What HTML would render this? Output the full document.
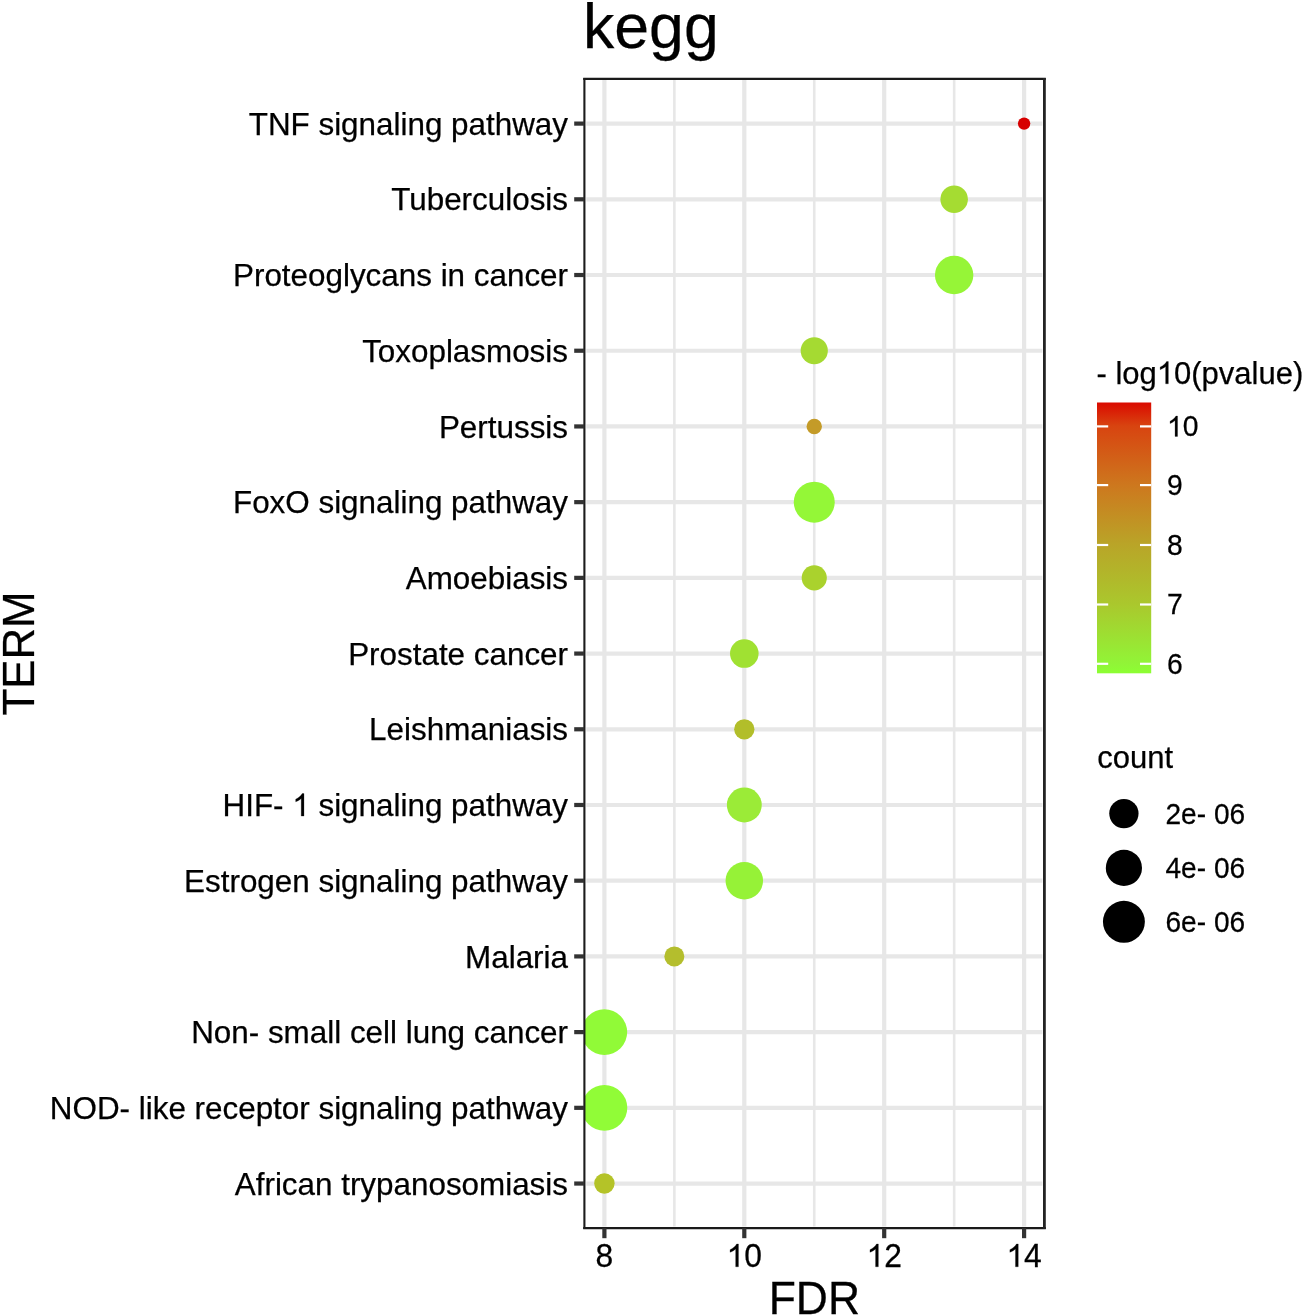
<!DOCTYPE html><html><head><meta charset="utf-8"><style>html,body{margin:0;padding:0;background:#fff;}svg{display:block;transform:translateZ(0);}text{font-family:"Liberation Sans", sans-serif;stroke:#000;stroke-width:0.25px;}</style></head><body>
<svg width="1305" height="1316" viewBox="0 0 1305 1316">
<text x="583" y="47.6" font-size="62.6" fill="#000">kegg</text>
<line x1="674.35" y1="79.9" x2="674.35" y2="1226.6" stroke="#E7E7E7" stroke-width="2.6"/>
<line x1="814.25" y1="79.9" x2="814.25" y2="1226.6" stroke="#E7E7E7" stroke-width="2.6"/>
<line x1="954.15" y1="79.9" x2="954.15" y2="1226.6" stroke="#E7E7E7" stroke-width="2.6"/>
<line x1="604.40" y1="79.9" x2="604.40" y2="1226.6" stroke="#E7E7E7" stroke-width="4.2"/>
<line x1="744.30" y1="79.9" x2="744.30" y2="1226.6" stroke="#E7E7E7" stroke-width="4.2"/>
<line x1="884.20" y1="79.9" x2="884.20" y2="1226.6" stroke="#E7E7E7" stroke-width="4.2"/>
<line x1="1024.10" y1="79.9" x2="1024.10" y2="1226.6" stroke="#E7E7E7" stroke-width="4.2"/>
<line x1="586.3" y1="123.60" x2="1042.4" y2="123.60" stroke="#E7E7E7" stroke-width="4.2"/>
<line x1="586.3" y1="199.31" x2="1042.4" y2="199.31" stroke="#E7E7E7" stroke-width="4.2"/>
<line x1="586.3" y1="275.02" x2="1042.4" y2="275.02" stroke="#E7E7E7" stroke-width="4.2"/>
<line x1="586.3" y1="350.73" x2="1042.4" y2="350.73" stroke="#E7E7E7" stroke-width="4.2"/>
<line x1="586.3" y1="426.44" x2="1042.4" y2="426.44" stroke="#E7E7E7" stroke-width="4.2"/>
<line x1="586.3" y1="502.15" x2="1042.4" y2="502.15" stroke="#E7E7E7" stroke-width="4.2"/>
<line x1="586.3" y1="577.86" x2="1042.4" y2="577.86" stroke="#E7E7E7" stroke-width="4.2"/>
<line x1="586.3" y1="653.57" x2="1042.4" y2="653.57" stroke="#E7E7E7" stroke-width="4.2"/>
<line x1="586.3" y1="729.28" x2="1042.4" y2="729.28" stroke="#E7E7E7" stroke-width="4.2"/>
<line x1="586.3" y1="804.99" x2="1042.4" y2="804.99" stroke="#E7E7E7" stroke-width="4.2"/>
<line x1="586.3" y1="880.70" x2="1042.4" y2="880.70" stroke="#E7E7E7" stroke-width="4.2"/>
<line x1="586.3" y1="956.41" x2="1042.4" y2="956.41" stroke="#E7E7E7" stroke-width="4.2"/>
<line x1="586.3" y1="1032.12" x2="1042.4" y2="1032.12" stroke="#E7E7E7" stroke-width="4.2"/>
<line x1="586.3" y1="1107.83" x2="1042.4" y2="1107.83" stroke="#E7E7E7" stroke-width="4.2"/>
<line x1="586.3" y1="1183.54" x2="1042.4" y2="1183.54" stroke="#E7E7E7" stroke-width="4.2"/>
<clipPath id="pc"><rect x="584.30" y="78.90" width="460.10" height="1149.20"/></clipPath><g clip-path="url(#pc)">
<circle cx="1024.10" cy="123.60" r="6.20" fill="#D70000"/>
<circle cx="954.15" cy="199.31" r="13.75" fill="#A5DC32"/>
<circle cx="954.15" cy="275.02" r="19.20" fill="#96F537"/>
<circle cx="814.25" cy="350.73" r="13.60" fill="#A5DA32"/>
<circle cx="814.25" cy="426.44" r="7.70" fill="#C49B28"/>
<circle cx="814.25" cy="502.15" r="20.50" fill="#94F737"/>
<circle cx="814.25" cy="577.86" r="12.60" fill="#AAD22D"/>
<circle cx="744.30" cy="653.57" r="14.30" fill="#A0E132"/>
<circle cx="744.30" cy="729.28" r="10.15" fill="#B2BE2A"/>
<circle cx="744.30" cy="804.99" r="17.45" fill="#9BEB37"/>
<circle cx="744.30" cy="880.70" r="18.75" fill="#96F237"/>
<circle cx="674.35" cy="956.41" r="10.00" fill="#B4BE2D"/>
<circle cx="604.40" cy="1032.12" r="22.80" fill="#91FA37"/>
<circle cx="604.40" cy="1107.83" r="22.90" fill="#91FC37"/>
<circle cx="604.40" cy="1183.54" r="10.20" fill="#B4C328"/>
</g>
<path d="M583.20 78.90H1045.80M583.20 1228.10H1045.80" stroke="#1A1A1A" stroke-width="2.1"/>
<path d="M584.40 77.90V1229.10" stroke="#1C1C1C" stroke-width="2.1"/>
<path d="M1044.40 77.90V1229.10" stroke="#242424" stroke-width="2.8"/>
<line x1="574.2" y1="123.60" x2="584.30" y2="123.60" stroke="#333" stroke-width="4.2"/>
<text x="568.00" y="134.70" font-size="31.4" fill="#000" text-anchor="end">TNF signaling pathway</text>
<line x1="574.2" y1="199.31" x2="584.30" y2="199.31" stroke="#333" stroke-width="4.2"/>
<text x="568.00" y="210.41" font-size="31.4" fill="#000" text-anchor="end">Tuberculosis</text>
<line x1="574.2" y1="275.02" x2="584.30" y2="275.02" stroke="#333" stroke-width="4.2"/>
<text x="568.00" y="286.12" font-size="31.4" fill="#000" text-anchor="end">Proteoglycans in cancer</text>
<line x1="574.2" y1="350.73" x2="584.30" y2="350.73" stroke="#333" stroke-width="4.2"/>
<text x="568.00" y="361.83" font-size="31.4" fill="#000" text-anchor="end">Toxoplasmosis</text>
<line x1="574.2" y1="426.44" x2="584.30" y2="426.44" stroke="#333" stroke-width="4.2"/>
<text x="568.00" y="437.54" font-size="31.4" fill="#000" text-anchor="end">Pertussis</text>
<line x1="574.2" y1="502.15" x2="584.30" y2="502.15" stroke="#333" stroke-width="4.2"/>
<text x="568.00" y="513.25" font-size="31.4" fill="#000" text-anchor="end">FoxO signaling pathway</text>
<line x1="574.2" y1="577.86" x2="584.30" y2="577.86" stroke="#333" stroke-width="4.2"/>
<text x="568.00" y="588.96" font-size="31.4" fill="#000" text-anchor="end">Amoebiasis</text>
<line x1="574.2" y1="653.57" x2="584.30" y2="653.57" stroke="#333" stroke-width="4.2"/>
<text x="568.00" y="664.67" font-size="31.4" fill="#000" text-anchor="end">Prostate cancer</text>
<line x1="574.2" y1="729.28" x2="584.30" y2="729.28" stroke="#333" stroke-width="4.2"/>
<text x="568.00" y="740.38" font-size="31.4" fill="#000" text-anchor="end">Leishmaniasis</text>
<line x1="574.2" y1="804.99" x2="584.30" y2="804.99" stroke="#333" stroke-width="4.2"/>
<text x="568.00" y="816.09" font-size="31.4" fill="#000" text-anchor="end">HIF-   signaling pathway</text>
<line x1="574.2" y1="880.70" x2="584.30" y2="880.70" stroke="#333" stroke-width="4.2"/>
<text x="568.00" y="891.80" font-size="31.4" fill="#000" text-anchor="end">Estrogen signaling pathway</text>
<line x1="574.2" y1="956.41" x2="584.30" y2="956.41" stroke="#333" stroke-width="4.2"/>
<text x="568.00" y="967.51" font-size="31.4" fill="#000" text-anchor="end">Malaria</text>
<line x1="574.2" y1="1032.12" x2="584.30" y2="1032.12" stroke="#333" stroke-width="4.2"/>
<text x="568.00" y="1043.22" font-size="31.4" fill="#000" text-anchor="end">Non- small cell lung cancer</text>
<line x1="574.2" y1="1107.83" x2="584.30" y2="1107.83" stroke="#333" stroke-width="4.2"/>
<text x="568.00" y="1118.93" font-size="31.4" fill="#000" text-anchor="end">NOD- like receptor signaling pathway</text>
<line x1="574.2" y1="1183.54" x2="584.30" y2="1183.54" stroke="#333" stroke-width="4.2"/>
<text x="568.00" y="1194.64" font-size="31.4" fill="#000" text-anchor="end">African trypanosomiasis</text>
<line x1="604.40" y1="1228.10" x2="604.40" y2="1238.2" stroke="#333" stroke-width="4.2"/>
<text x="604.40" y="1266.80" font-size="31.8" fill="#000" text-anchor="middle" transform="translate(0,1266.80) scale(1,1.04) translate(0,-1266.80)">8</text>
<line x1="744.30" y1="1228.10" x2="744.30" y2="1238.2" stroke="#333" stroke-width="4.2"/>
<text x="744.30" y="1266.80" font-size="31.8" fill="#000" text-anchor="middle" transform="translate(0,1266.80) scale(1,1.04) translate(0,-1266.80)"> 0</text>
<line x1="884.20" y1="1228.10" x2="884.20" y2="1238.2" stroke="#333" stroke-width="4.2"/>
<text x="884.20" y="1266.80" font-size="31.8" fill="#000" text-anchor="middle" transform="translate(0,1266.80) scale(1,1.04) translate(0,-1266.80)"> 2</text>
<line x1="1024.10" y1="1228.10" x2="1024.10" y2="1238.2" stroke="#333" stroke-width="4.2"/>
<text x="1024.10" y="1266.80" font-size="31.8" fill="#000" text-anchor="middle" transform="translate(0,1266.80) scale(1,1.04) translate(0,-1266.80)"> 4</text>
<text x="814.35" y="1313.6" font-size="44.4" text-anchor="middle" fill="#000" transform="translate(0,1313.6) scale(1,1.03) translate(0,-1313.6)">FDR</text>
<text transform="translate(34,653.50) rotate(-90) scale(1,1.03)" x="0" y="0" font-size="43.8" text-anchor="middle" fill="#000">TERM</text>
<defs><linearGradient id="cb" x1="0" y1="0" x2="0" y2="1"><stop offset="0" stop-color="#DA0A00"/><stop offset="0.087" stop-color="#D84410"/><stop offset="0.307" stop-color="#CD781E"/><stop offset="0.527" stop-color="#B9A528"/><stop offset="0.747" stop-color="#AAC82D"/><stop offset="0.967" stop-color="#91F537"/><stop offset="1" stop-color="#8CFF32"/></linearGradient></defs>
<rect x="1097.0" y="402.5" width="54.2" height="270.8" fill="url(#cb)"/>
<line x1="1097.0" y1="426.4" x2="1108.2" y2="426.4" stroke="#fff" stroke-width="2.2"/>
<line x1="1140.0" y1="426.4" x2="1151.2" y2="426.4" stroke="#fff" stroke-width="2.2"/>
<text x="1167.00" y="436.40" font-size="28.3" fill="#000" transform="translate(0,436.40) scale(1,1.04) translate(0,-436.40)"> 0</text>
<line x1="1097.0" y1="485.1" x2="1108.2" y2="485.1" stroke="#fff" stroke-width="2.2"/>
<line x1="1140.0" y1="485.1" x2="1151.2" y2="485.1" stroke="#fff" stroke-width="2.2"/>
<text x="1167.00" y="495.10" font-size="28.3" fill="#000" transform="translate(0,495.10) scale(1,1.04) translate(0,-495.10)">9</text>
<line x1="1097.0" y1="545.0" x2="1108.2" y2="545.0" stroke="#fff" stroke-width="2.2"/>
<line x1="1140.0" y1="545.0" x2="1151.2" y2="545.0" stroke="#fff" stroke-width="2.2"/>
<text x="1167.00" y="555.00" font-size="28.3" fill="#000" transform="translate(0,555.00) scale(1,1.04) translate(0,-555.00)">8</text>
<line x1="1097.0" y1="604.5" x2="1108.2" y2="604.5" stroke="#fff" stroke-width="2.2"/>
<line x1="1140.0" y1="604.5" x2="1151.2" y2="604.5" stroke="#fff" stroke-width="2.2"/>
<text x="1167.00" y="614.50" font-size="28.3" fill="#000" transform="translate(0,614.50) scale(1,1.04) translate(0,-614.50)">7</text>
<line x1="1097.0" y1="663.8" x2="1108.2" y2="663.8" stroke="#fff" stroke-width="2.2"/>
<line x1="1140.0" y1="663.8" x2="1151.2" y2="663.8" stroke="#fff" stroke-width="2.2"/>
<text x="1167.00" y="673.80" font-size="28.3" fill="#000" transform="translate(0,673.80) scale(1,1.04) translate(0,-673.80)">6</text>
<text x="1096.50" y="383.80" font-size="31" fill="#000">- log 0(pvalue)</text>
<text x="1097.3" y="767.9" font-size="31" fill="#000">count</text>
<circle cx="1123.9" cy="813.6" r="14.65" fill="#000"/>
<text x="1165.50" y="823.90" font-size="28.1" fill="#000" transform="translate(0,823.90) scale(1,1.05) translate(0,-823.90)">2e- 06</text>
<circle cx="1123.9" cy="867.9" r="18.10" fill="#000"/>
<text x="1165.50" y="878.20" font-size="28.1" fill="#000" transform="translate(0,878.20) scale(1,1.05) translate(0,-878.20)">4e- 06</text>
<circle cx="1123.9" cy="921.8" r="20.95" fill="#000"/>
<text x="1165.50" y="932.10" font-size="28.1" fill="#000" transform="translate(0,932.10) scale(1,1.05) translate(0,-932.10)">6e- 06</text>
<path d="M763 0H583V1147Q518 1085 412.5 1023Q307 961 223 930V1104Q374 1175 487 1276Q600 1377 647 1472H763Z" fill="#000" stroke="#000" stroke-width="0.25" vector-effect="non-scaling-stroke" transform=" translate(292.27,816.09) scale(0.015332,-0.015332)"/>
<path d="M763 0H583V1147Q518 1085 412.5 1023Q307 961 223 930V1104Q374 1175 487 1276Q600 1377 647 1472H763Z" fill="#000" stroke="#000" stroke-width="0.25" vector-effect="non-scaling-stroke" transform="translate(0,1266.80) scale(1,1.04) translate(0,-1266.80) translate(726.61,1266.80) scale(0.015527,-0.014930)"/>
<path d="M763 0H583V1147Q518 1085 412.5 1023Q307 961 223 930V1104Q374 1175 487 1276Q600 1377 647 1472H763Z" fill="#000" stroke="#000" stroke-width="0.25" vector-effect="non-scaling-stroke" transform="translate(0,1266.80) scale(1,1.04) translate(0,-1266.80) translate(866.51,1266.80) scale(0.015527,-0.014930)"/>
<path d="M763 0H583V1147Q518 1085 412.5 1023Q307 961 223 930V1104Q374 1175 487 1276Q600 1377 647 1472H763Z" fill="#000" stroke="#000" stroke-width="0.25" vector-effect="non-scaling-stroke" transform="translate(0,1266.80) scale(1,1.04) translate(0,-1266.80) translate(1006.41,1266.80) scale(0.015527,-0.014930)"/>
<path d="M763 0H583V1147Q518 1085 412.5 1023Q307 961 223 930V1104Q374 1175 487 1276Q600 1377 647 1472H763Z" fill="#000" stroke="#000" stroke-width="0.25" vector-effect="non-scaling-stroke" transform="translate(0,436.40) scale(1,1.04) translate(0,-436.40) translate(1167.00,436.40) scale(0.013818,-0.013287)"/>
<path d="M763 0H583V1147Q518 1085 412.5 1023Q307 961 223 930V1104Q374 1175 487 1276Q600 1377 647 1472H763Z" fill="#000" stroke="#000" stroke-width="0.25" vector-effect="non-scaling-stroke" transform=" translate(1156.80,383.80) scale(0.015137,-0.015137)"/>
</svg></body></html>
